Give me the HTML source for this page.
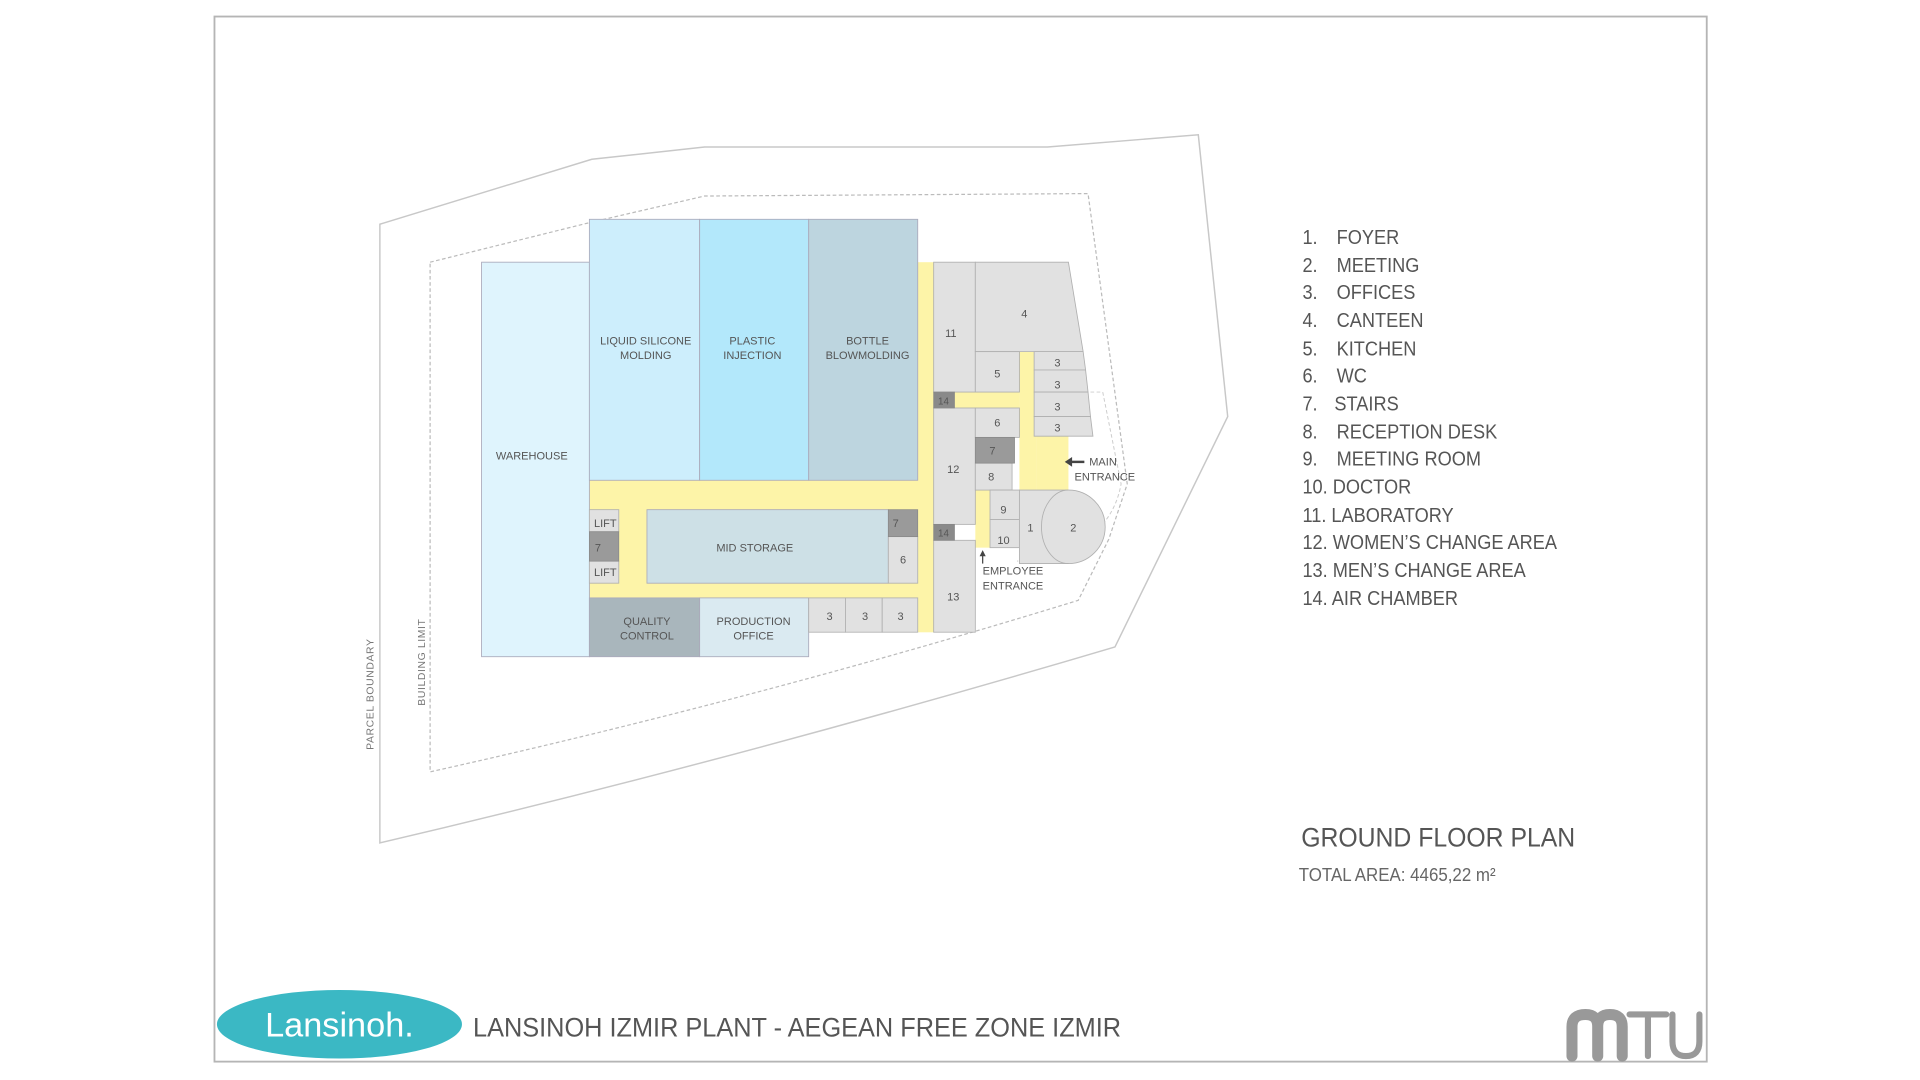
<!DOCTYPE html>
<html><head><meta charset="utf-8"><style>
html,body{margin:0;padding:0;background:#fff;}
svg{display:block;}
text{font-family:"Liberation Sans Narrow","Liberation Sans",sans-serif;}
</style></head><body>
<svg width="1920" height="1080" viewBox="0 0 1567 881.5" xmlns="http://www.w3.org/2000/svg">
<rect x="0" y="0" width="1567" height="881.5" fill="#fff"/>
<rect x="175" y="13.5" width="1218" height="853" fill="none" stroke="#b5b5b5" stroke-width="1.5"/>
<path d="M310,183 L483,130 L575,120 L855,120 L978,110 L1002,340 L910,528 Q600,620 310,688 Z" fill="none" stroke="#c8c8c8" stroke-width="1.2"/>
<path d="M351,214 L480,182 L575,160 L888,158 L920,395 L905,440 L880,490 Q620,570 351,630 Z" fill="none" stroke="#bbb" stroke-width="1" stroke-dasharray="3,2"/>
<path d="M870,320 L900,320 L915,395 Q905,450 830,458" fill="none" stroke="#ccc" stroke-width="0.8" stroke-dasharray="3,2"/>
<text transform="translate(305,612) rotate(-90)" font-size="8.5" fill="#777" letter-spacing="0.5">PARCEL BOUNDARY</text>
<text transform="translate(347,576) rotate(-90)" font-size="8.5" fill="#777" letter-spacing="0.5">BUILDING LIMIT</text>
<rect x="481" y="392" width="281" height="124" fill="#fdf4a8"/>
<rect x="749" y="214" width="13" height="302" fill="#fdf4a8"/>
<rect x="779" y="320" width="53" height="13" fill="#fdf4a8"/>
<rect x="832" y="287" width="14" height="113" fill="#fdf4a8"/>
<rect x="846" y="356" width="26" height="44" fill="#fdf4a8"/>
<rect x="796" y="400" width="12" height="47" fill="#fdf4a8"/>
<g stroke="#aab" stroke-width="0.7">
<rect x="393" y="214" width="88" height="322" fill="#dff4fd"/>
<rect x="481" y="179" width="90" height="213" fill="#cdeefc"/>
<rect x="571" y="179" width="89" height="213" fill="#b3e8fb"/>
<rect x="660" y="179" width="89" height="213" fill="#bdd5df"/>
<rect x="528" y="416" width="197" height="60" fill="#cde0e6"/>
<rect x="481" y="488" width="90" height="48" fill="#a9b6bc"/>
<rect x="571" y="488" width="89" height="48" fill="#daeaf1"/>
</g>
<g fill="#e1e1e1" stroke="#b0b0b0" stroke-width="0.7">
<rect x="725" y="438" width="24" height="38"/>
<rect x="481" y="416" width="24" height="18"/>
<rect x="481" y="458" width="24" height="18"/>
<rect x="660" y="488" width="30" height="28"/><rect x="690" y="488" width="30" height="28"/><rect x="720" y="488" width="29" height="28"/>
<rect x="762" y="214" width="34" height="106"/>
<rect x="762" y="333" width="34" height="95"/>
<rect x="762" y="441" width="34" height="75"/>
<path d="M796,214 L872,214 L884,287 L796,287 Z"/>
<rect x="796" y="287" width="36" height="33"/>
<path d="M844,287 L884,287 L886,302 L844,302 Z"/>
<path d="M844,302 L886,302 L888,320 L844,320 Z"/>
<path d="M844,320 L888,320 L890,340 L844,340 Z"/>
<path d="M844,340 L890,340 L892,356 L844,356 Z"/>
<rect x="796" y="333" width="36" height="24"/>
<rect x="796" y="378" width="30" height="22"/>
<rect x="808" y="400" width="24" height="24"/>
<rect x="808" y="424" width="24" height="23"/>
<path d="M832,400 L872,400 A30,30 0 0 1 872,460 L832,460 Z"/>
<path d="M872,400 A22,30 0 0 0 872,460" fill="none"/>
</g>
<g fill="#9a9a9a" stroke="#888" stroke-width="0.6">
<rect x="725" y="416" width="24" height="22"/>
<rect x="481" y="434" width="24" height="24"/>
<rect x="796" y="357" width="32" height="21"/>
<rect x="762" y="320" width="17" height="13" fill="#8a8a8a"/>
<rect x="762" y="428" width="17" height="13" fill="#8a8a8a"/>
</g>
<g font-size="9" fill="#555" text-anchor="middle">
<text x="434" y="375">WAREHOUSE</text>
<text x="527" y="281">LIQUID SILICONE</text><text x="527" y="293">MOLDING</text>
<text x="614" y="281">PLASTIC</text><text x="614" y="293">INJECTION</text>
<text x="708" y="281">BOTTLE</text><text x="708" y="293">BLOWMOLDING</text>
<text x="616" y="450">MID STORAGE</text>
<text x="528" y="510">QUALITY</text><text x="528" y="522">CONTROL</text>
<text x="615" y="510">PRODUCTION</text><text x="615" y="522">OFFICE</text>
<text x="494" y="430">LIFT</text><text x="494" y="470">LIFT</text><text x="488" y="450">7</text>
<text x="731" y="430">7</text><text x="737" y="460">6</text>
<text x="677" y="506">3</text><text x="706" y="506">3</text><text x="735" y="506">3</text>
<text x="776" y="275">11</text><text x="778" y="386">12</text><text x="778" y="490">13</text>
<text x="770" y="330" font-size="8">14</text><text x="770" y="438" font-size="8">14</text>
<text x="836" y="259">4</text><text x="814" y="308">5</text>
<text x="863" y="299">3</text><text x="863" y="317">3</text><text x="863" y="335">3</text><text x="863" y="352">3</text>
<text x="814" y="348">6</text><text x="810" y="371">7</text><text x="809" y="392">8</text>
<text x="819" y="419">9</text><text x="819" y="444">10</text>
<text x="841" y="434">1</text><text x="876" y="434">2</text>
</g>
<g font-size="9" fill="#555">
<text x="889" y="380">MAIN</text><text x="877" y="392">ENTRANCE</text>
<text x="802" y="469">EMPLOYEE</text><text x="802" y="481">ENTRANCE</text>
</g>
<path d="M885,377 L874,377" stroke="#444" stroke-width="2"/><path d="M869,377 L875,373 L875,381 Z" fill="#444"/>
<path d="M802,460 L802,452" stroke="#444" stroke-width="1"/><path d="M802,449 L799.5,454 L804.5,454 Z" fill="#444"/>
<g font-size="16.5" fill="#555" transform="translate(1063,0) scale(0.9,1)">
<text y="199"><tspan x="0">1.</tspan><tspan x="31">FOYER</tspan></text>
<text y="222"><tspan x="0">2.</tspan><tspan x="31">MEETING</tspan></text>
<text y="244"><tspan x="0">3.</tspan><tspan x="31">OFFICES</tspan></text>
<text y="267"><tspan x="0">4.</tspan><tspan x="31">CANTEEN</tspan></text>
<text y="290"><tspan x="0">5.</tspan><tspan x="31">KITCHEN</tspan></text>
<text y="312"><tspan x="0">6.</tspan><tspan x="31">WC</tspan></text>
<text y="335"><tspan x="0">7.</tspan><tspan x="29">STAIRS</tspan></text>
<text y="358"><tspan x="0">8.</tspan><tspan x="31">RECEPTION DESK</tspan></text>
<text y="380"><tspan x="0">9.</tspan><tspan x="31">MEETING ROOM</tspan></text>
<text y="403">10. DOCTOR</text>
<text y="426">11. LABORATORY</text>
<text y="448">12. WOMEN’S CHANGE AREA</text>
<text y="471">13. MEN’S CHANGE AREA</text>
<text y="494">14. AIR CHAMBER</text>
</g>
<text transform="translate(1062,691) scale(0.92,1)" font-size="22" fill="#555">GROUND FLOOR PLAN</text>
<text transform="translate(1060,719) scale(0.92,1)" font-size="15" fill="#666">TOTAL AREA: 4465,22 m²</text>
<ellipse cx="277" cy="836" rx="100" ry="28" fill="#3bb8c4"/>
<text x="277" y="846" font-size="28" fill="#fff" text-anchor="middle">Lansinoh.</text>
<text transform="translate(386,846) scale(0.94,1)" font-size="22" fill="#555">LANSINOH IZMIR PLANT - AEGEAN FREE ZONE IZMIR</text>
<g fill="none" stroke="#999" stroke-linecap="round">
<path d="M1283,862 L1283,838 Q1283,828 1294,828 Q1304,828 1304,838 L1304,862 M1304,838 Q1304,828 1314,828 Q1324,828 1324,838 L1324,862" stroke-width="9"/>
<path d="M1330,828 L1360,828 M1345,828 L1345,862 M1365,828 L1365,850 Q1365,862 1376,862 Q1387,862 1387,850 L1387,828" stroke-width="5"/>
</g>
</svg>
</body></html>
